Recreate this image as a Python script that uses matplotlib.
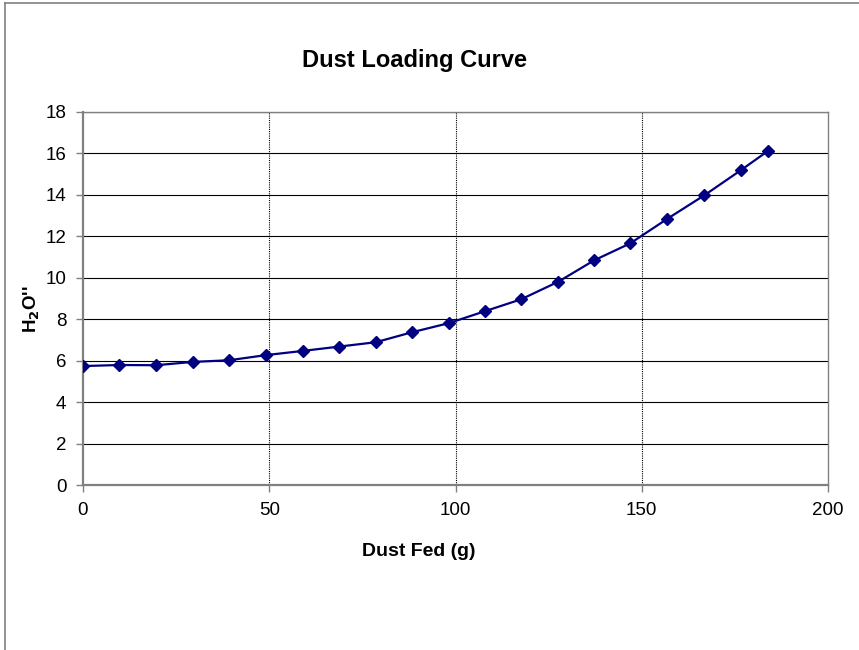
import matplotlib
matplotlib.use("Agg")
import matplotlib.pyplot as plt
from matplotlib.lines import Line2D

plt.rcParams['font.family'] = ['Liberation Sans', 'DejaVu Sans']

# dust fed (g) and pressure drop (inches H2O)
dust_fed = [0, 9.7, 19.6, 29.5, 39.2, 49.2, 59.0, 68.8, 78.6, 88.3,
            98.2, 107.8, 117.6, 127.6, 137.2, 146.9, 156.9, 166.8, 176.6, 183.8]
h2o = [5.74, 5.79, 5.78, 5.94, 6.02, 6.27, 6.47, 6.68, 6.89, 7.37,
       7.81, 8.38, 8.96, 9.81, 10.84, 11.66, 12.85, 13.98, 15.19, 16.11]

x_ticks = [0, 50, 100, 150, 200]
y_ticks = [0, 2, 4, 6, 8, 10, 12, 14, 16, 18]

fig = plt.figure(figsize=(8.59, 6.5), dpi=100)
ax = fig.add_axes([83/859, 1 - 485/650, (828 - 83)/859, (485 - 112)/650])

# horizontal grid solid, vertical grid dotted
for y in y_ticks[1:]:
    ax.axhline(y, color='black', lw=0.8, zorder=1)
for x in x_ticks[1:-1]:
    ax.axvline(x, color='black', lw=0.8, ls=(0, (1, 1)), zorder=1)

ax.plot(dust_fed, h2o, color='#000080', lw=1.6, marker='D', ms=6.5,
        markerfacecolor='#000080', markeredgecolor='#000080', zorder=3)

ax.set_xlim(0, 200)
ax.set_ylim(0, 18)
ax.set_xticks(x_ticks)
ax.set_yticks(y_ticks)
ax.tick_params(labelsize=13.5, length=5, width=1, color='#808080', direction='out')
ax.tick_params(axis='y', pad=7)
ax.tick_params(axis='x', pad=7)

for side in ['left', 'bottom']:
    ax.spines[side].set_color('#808080')
    ax.spines[side].set_linewidth(1.6)
ax.spines['top'].set_color('#808080')
ax.spines['top'].set_linewidth(1.0)
ax.spines['right'].set_color('#808080')
ax.spines['right'].set_linewidth(1.0)
ax.spines['right'].set_linestyle((0, (1, 1)))

fig.text(414/859, 1 - 60/650, 'Dust Loading Curve', ha='center', va='center',
         fontsize=17, fontweight='bold')
fig.text(419/859, 1 - 551/650, 'Dust Fed (g)', ha='center', va='center',
         fontsize=14, fontweight='bold')
fig.text(32/859, 1 - 309/650, r"H$_\mathbf{2}$O''", ha='center', va='center',
         rotation=90, fontsize=13.5, fontweight='bold')

# chart area border (top and left visible)
fig.add_artist(Line2D([5/859, 5/859], [0, 1 - 3/650], transform=fig.transFigure,
                      color='#808080', lw=1.2))
fig.add_artist(Line2D([5/859, 1], [1 - 3/650, 1 - 3/650], transform=fig.transFigure,
                      color='#808080', lw=1.2))

fig.savefig('out.png', dpi=100)
